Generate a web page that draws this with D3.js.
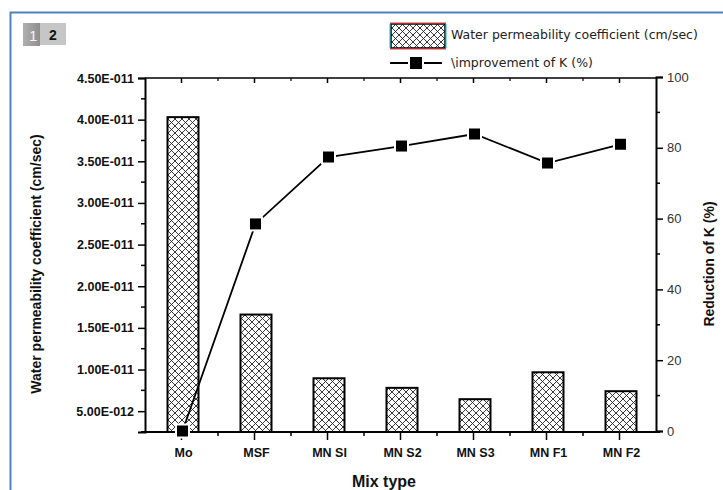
<!DOCTYPE html>
<html>
<head>
<meta charset="utf-8">
<script src="https://cdn.jsdelivr.net/npm/d3@7"></script>
<style>
  body { margin: 0; background: #fff; }
  svg { display: block; }
</style>
</head>
<body>
<svg id="chart" width="723" height="490"></svg>
<script>
// mix types and measured values
var mixTypes = ["Mo", "MSF", "MN SI", "MN S2", "MN S3", "MN F1", "MN F2"];
var permeability = [4.03e-11, 1.66e-11, 0.895e-11, 0.78e-11, 0.644e-11, 0.967e-11, 0.74e-11];
var reduction = [0, 58.5, 77.4, 80.5, 83.9, 75.7, 81];
var leftTicks = [5e-12, 1e-11, 1.5e-11, 2e-11, 2.5e-11, 3e-11, 3.5e-11, 4e-11, 4.5e-11];
var rightTicks = [0, 20, 40, 60, 80, 100];

var svg = d3.select("#chart");
var plotL = 145, plotR = 656, plotT = 78, plotB = 432;

// outer blue frame of the screenshot
svg.append("path")
    .attr("d", "M10.5,500 L10.5,12.5 L730,12.5")
    .attr("fill", "none")
    .attr("stroke", "#4f81bd")
    .attr("stroke-width", 2);

// page tabs
var defs = svg.append("defs");
var tabGrad = defs.append("linearGradient")
    .attr("id", "tabGrad").attr("x1", 0).attr("x2", 1).attr("y1", 0).attr("y2", 0);
tabGrad.append("stop").attr("offset", "0%").attr("stop-color", "#b0b0b0");
tabGrad.append("stop").attr("offset", "100%").attr("stop-color", "#8e8e8e");
svg.append("rect").attr("x", 23).attr("y", 23).attr("width", 17).attr("height", 23).attr("fill", "url(#tabGrad)");
svg.append("text").attr("x", 29).attr("y", 41).attr("font-family", "Liberation Sans, Arial")
    .attr("font-size", 15).attr("fill", "#f4f4f4").text("1");
svg.append("rect").attr("x", 40).attr("y", 23).attr("width", 26).attr("height", 22).attr("fill", "#c6c6c6");
svg.append("text").attr("x", 53).attr("y", 40).attr("text-anchor", "middle")
    .attr("font-family", "Liberation Sans, Arial").attr("font-weight", "bold")
    .attr("font-size", 14).attr("fill", "#111").text("2");

// crosshatch pattern
var pat = defs.append("pattern")
    .attr("id", "hatch").attr("patternUnits", "userSpaceOnUse")
    .attr("width", 7).attr("height", 7);
pat.append("rect").attr("width", 7).attr("height", 7).attr("fill", "#fff");
pat.append("path").attr("d", "M-1,-1 L8,8 M-1,8 L8,-1")
    .attr("stroke", "#222").attr("stroke-width", 0.9);

var x = d3.scaleBand().domain(mixTypes).range([plotL, plotR]);
var yL = d3.scaleLinear().domain([2.5e-12, 4.5e-11]).range([plotB, plotT]);
var yR = d3.scaleLinear().domain([0, 100]).range([431, 77]);

var fmtL = function(d) { return d.toExponential(2).replace("e-", "E-0"); };

// minor ticks
var minorL = d3.range(7.5e-12, 4.5e-11, 5e-12);
svg.append("g").selectAll("line").data(minorL).enter().append("line")
    .attr("x1", plotL - 4).attr("x2", plotL)
    .attr("y1", function(d) { return yL(d); }).attr("y2", function(d) { return yL(d); })
    .attr("stroke", "#000").attr("stroke-width", 1.5);
var minorR = d3.range(10, 100, 20);
svg.append("g").selectAll("line").data(minorR).enter().append("line")
    .attr("x1", plotR).attr("x2", plotR + 4)
    .attr("y1", function(d) { return yR(d); }).attr("y2", function(d) { return yR(d); })
    .attr("stroke", "#000").attr("stroke-width", 1.5);
var minorX = mixTypes.slice(1);
svg.append("g").selectAll("line").data(minorX).enter().append("line")
    .attr("x1", function(d) { return x(d); }).attr("x2", function(d) { return x(d); })
    .attr("y1", plotB).attr("y2", plotB + 4)
    .attr("stroke", "#000").attr("stroke-width", 1.5);
svg.append("g").selectAll("line").data(minorX).enter().append("line")
    .attr("x1", function(d) { return x(d); }).attr("x2", function(d) { return x(d); })
    .attr("y1", plotT).attr("y2", plotT + 3)
    .attr("stroke", "#000").attr("stroke-width", 1.2);

// bars
svg.append("g").selectAll("rect").data(permeability).enter().append("rect")
    .attr("x", function(d, i) { return x(mixTypes[i]) + x.bandwidth() / 2 - 14; })
    .attr("y", function(d) { return yL(d); })
    .attr("width", 31)
    .attr("height", function(d) { return plotB - yL(d); })
    .attr("fill", "url(#hatch)")
    .attr("stroke", "#000").attr("stroke-width", 2);

// axes
var axL = svg.append("g").attr("transform", "translate(" + plotL + ",0)")
    .call(d3.axisLeft(yL).tickValues(leftTicks).tickFormat(fmtL).tickSize(7).tickPadding(4));
axL.selectAll("text").attr("font-family", "Liberation Sans, Arial").attr("font-weight", "bold")
    .attr("font-size", 12.5).attr("fill", "#111");

var axR = svg.append("g").attr("transform", "translate(" + plotR + ",0)")
    .call(d3.axisRight(yR).tickValues(rightTicks).tickSize(7).tickPadding(4));
axR.selectAll("text").attr("font-family", "Liberation Sans, Arial")
    .attr("font-size", 13).attr("fill", "#333");

var axB = svg.append("g").attr("transform", "translate(0," + plotB + ")")
    .call(d3.axisBottom(x).tickSize(8).tickPadding(8));
axB.selectAll("text").attr("font-family", "Liberation Sans, Arial").attr("font-weight", "bold")
    .attr("font-size", 12.5).attr("fill", "#111").attr("dx", 2);

var axT = svg.append("g").attr("transform", "translate(0," + plotT + ")")
    .call(d3.axisBottom(x).tickSize(5).tickFormat(""));

[axL, axR, axB, axT].forEach(function(a) {
    a.select(".domain").attr("stroke-width", 2).attr("stroke", "#000");
    a.selectAll(".tick line").attr("stroke-width", 1.5);
});
axT.select(".domain").attr("stroke-width", 1.3).attr("d", "M" + plotL + ",0H" + plotR);
axB.select(".domain").attr("d", "M" + (plotL - 4) + ",0H" + (plotR + 4));

// reduction line
var pts = reduction.map(function(d, i) { return [x(mixTypes[i]) + x.bandwidth() / 2 + 1, yR(d)]; });
svg.append("path").datum(pts)
    .attr("d", d3.line())
    .attr("fill", "none").attr("stroke", "#000").attr("stroke-width", 1.8);
svg.append("g").selectAll("rect").data(pts).enter().append("rect")
    .attr("x", function(d) { return d[0] - 6.5; })
    .attr("y", function(d) { return d[1] - 6.5; })
    .attr("width", 13).attr("height", 13)
    .attr("fill", "#000").attr("stroke", "#fff").attr("stroke-width", 2);

// axis titles
svg.append("text")
    .attr("transform", "translate(41,264) rotate(-90)")
    .attr("text-anchor", "middle")
    .attr("font-family", "Liberation Sans, Arial").attr("font-weight", "bold").attr("font-size", 14)
    .attr("fill", "#111")
    .text("Water permeability coefficient (cm/sec)");
svg.append("text")
    .attr("transform", "translate(714,264) rotate(-90)")
    .attr("text-anchor", "middle")
    .attr("font-family", "Liberation Sans, Arial").attr("font-weight", "bold").attr("font-size", 14)
    .attr("fill", "#111")
    .text("Reduction of K (%)");
svg.append("text")
    .attr("x", 384).attr("y", 487)
    .attr("text-anchor", "middle")
    .attr("font-family", "Liberation Sans, Arial").attr("font-weight", "bold").attr("font-size", 16)
    .attr("fill", "#111")
    .text("Mix type");

// legend
var lg = svg.append("g");
lg.append("rect").attr("x", 391).attr("y", 24).attr("width", 54).attr("height", 24)
    .attr("fill", "url(#hatch)").attr("stroke", "#000").attr("stroke-width", 1.5);
lg.append("line").attr("x1", 390).attr("x2", 446).attr("y1", 23).attr("y2", 23).attr("stroke", "#e33").attr("stroke-width", 1);
lg.append("line").attr("x1", 390).attr("x2", 446).attr("y1", 49).attr("y2", 49).attr("stroke", "#e33").attr("stroke-width", 1);
lg.append("line").attr("x1", 390).attr("x2", 390).attr("y1", 24).attr("y2", 48).attr("stroke", "#1bb").attr("stroke-width", 1);
lg.append("line").attr("x1", 446).attr("x2", 446).attr("y1", 24).attr("y2", 48).attr("stroke", "#1bb").attr("stroke-width", 1);
lg.append("text").attr("x", 451).attr("y", 39)
    .attr("font-family", "DejaVu Sans").attr("font-size", 12.5).attr("fill", "#222")
    .text("Water permeability coefficient (cm/sec)");
lg.append("line").attr("x1", 390).attr("x2", 442).attr("y1", 63).attr("y2", 63).attr("stroke", "#000").attr("stroke-width", 2);
lg.append("rect").attr("x", 409).attr("y", 56).attr("width", 14).attr("height", 14)
    .attr("fill", "#000").attr("stroke", "#fff").attr("stroke-width", 2);
lg.append("text").attr("x", 451).attr("y", 67)
    .attr("font-family", "DejaVu Sans").attr("font-size", 12.5).attr("fill", "#222")
    .text("\\improvement of K (%)");
</script>
</body>
</html>
